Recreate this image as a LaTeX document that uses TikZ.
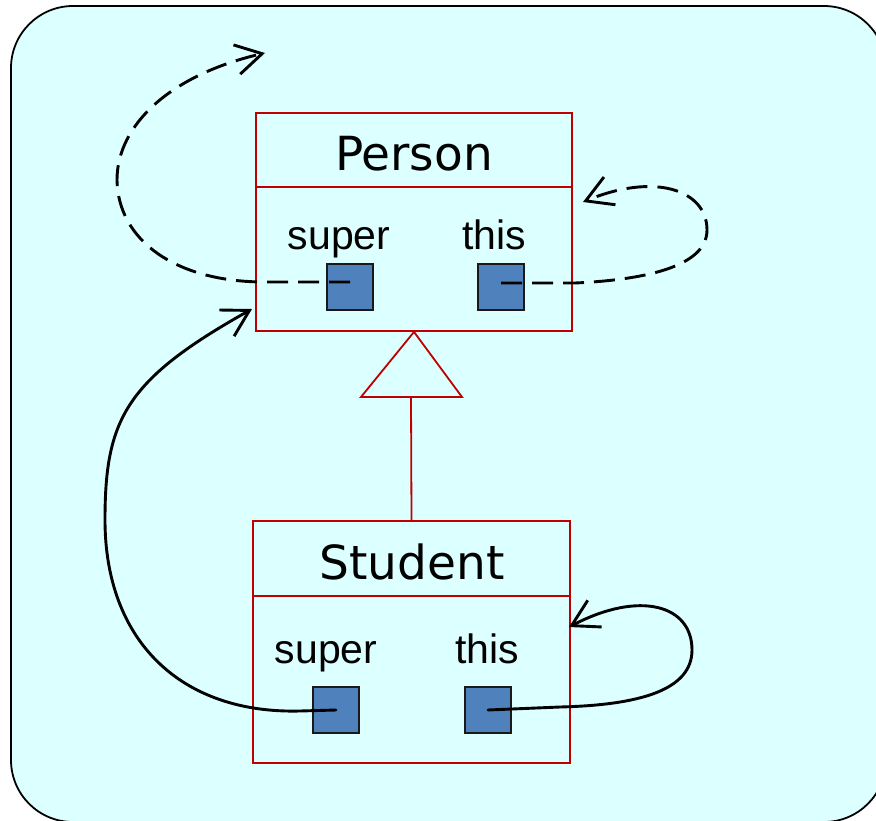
\documentclass[tikz,border=0pt]{standalone}
\usepackage{fontspec}
\setmainfont{Liberation Sans}
\newfontfamily\titlefont{DejaVu Sans}
\usetikzlibrary{arrows.meta,calc}

\definecolor{panelfill}{HTML}{DCFFFF}
\definecolor{umlred}{HTML}{C00000}
\definecolor{slotblue}{HTML}{4F81BD}

\tikzset{
  classbox/.style={draw=umlred, line width=1.8pt, rectangle, inner sep=0pt},
  titletext/.style={anchor=base, inner sep=0pt, font=\titlefont\fontsize{47}{50}\selectfont},
  fieldtext/.style={anchor=base, inner sep=0pt, font=\fontsize{41}{44}\selectfont},
  slot/.style={draw=black!90, line width=1.5pt, fill=slotblue, minimum size=46pt, inner sep=0pt},
  ref/.style={line width=2.9pt, line cap=round,
    -{Straight Barb[length=26pt, width=30pt, line width=2.9pt]}},
  refdash/.style={ref, line cap=butt, dash pattern=on 21pt off 10pt},
}

\begin{document}
\begin{tikzpicture}[x=1pt, y=-1pt]
  \useasboundingbox (0,0) rectangle (876,820);

  % background panel, running off the right and bottom edges
  \begin{scope}
    \clip (0,0) rectangle (876,820);
    \draw[fill=panelfill, line width=1.8pt, rounded corners=62pt]
      (11,6) rectangle (886,822);
  \end{scope}

  % Person class
  \node[classbox, minimum width=316pt, minimum height=218pt] (person) at (414,222) {};
  \draw[umlred, line width=1.8pt] ([yshift=-75pt]person.north west) -- ([yshift=-75pt]person.north east);
  \node[titletext] (ptitle) at (414,170) {Person};
  \node[fieldtext] (psuperlbl) at (339,249) {super};
  \node[fieldtext] (pthislbl) at (494,249) {this};
  \node[slot] (psuper) at (350,287) {};
  \node[slot] (pthis) at (501,287) {};

  % Student class
  \node[classbox, minimum width=317pt, minimum height=242pt] (student) at (411.5,642) {};
  \draw[umlred, line width=1.8pt] ([yshift=-76pt]student.north west) -- ([yshift=-76pt]student.north east);
  \node[titletext] (stitle) at (412,579) {Student};
  \node[fieldtext] (ssuperlbl) at (326,663) {super};
  \node[fieldtext] (sthislbl) at (487,663) {this};
  \node[slot] (ssuper) at (336,710) {};
  \node[slot] (sthis) at (488,710) {};

  % generalisation arrow: Student -> Person
  \coordinate (tribase) at (411,397);
  \draw[umlred, line width=1.8pt, line join=miter]
    (person.south) -- (tribase -| 462,0) -- (tribase -| 361,0) -- cycle;
  \draw[umlred, line width=1.8pt] (tribase) -- (student.north);

  % arrow end points
  \coordinate (ptop) at (265,53);
  \coordinate (pright) at (583,202);
  \coordinate (pleft) at (252,309);
  \coordinate (sright) at (569,627);

  % Person: super (dashed, leads out of the class)
  \draw[refdash] ([yshift=5pt]psuper.center) -- (265,282)
    .. controls (175,282) and (118,240) .. (117,180)
    .. controls (117,125) and (170,75) .. (ptop);

  % Person: this (dashed, loops back to Person)
  \draw[refdash] ([yshift=4pt]pthis.center) -- (575,283)
    .. controls (640,280) and (707,268) .. (707,230)
    .. controls (707,190) and (655,172) .. (pright);

  % Student: super (refers to Person)
  \draw[ref] (ssuper.center) -- (300,711)
    .. controls (180,714) and (105,640) .. (105,520)
    .. controls (105,420) and (125,380) .. (pleft);

  % Student: this (loops back to Student)
  \draw[ref] (sthis.center) -- (560,707)
    .. controls (640,705) and (692,690) .. (692,650)
    .. controls (692,605) and (640,590) .. (sright);
\end{tikzpicture}
\end{document}
